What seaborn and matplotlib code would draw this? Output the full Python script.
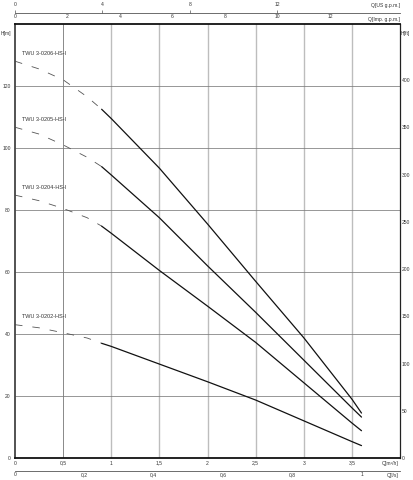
import pandas as pd
import matplotlib.pyplot as plt
import seaborn as sns

# pump curves (Q in m3/h, H in m)
models = ["TWU 3-0206-HS-I", "TWU 3-0205-HS-I", "TWU 3-0204-HS-I", "TWU 3-0202-HS-I"]

q_dash = [0.0, 0.25, 0.5, 0.75, 0.9]
h_dash_0206 = [128.0, 125.5, 122.0, 116.5, 112.5]
h_dash_0205 = [106.7, 104.5, 101.0, 97.0, 94.0]
h_dash_0204 = [84.8, 83.0, 80.5, 77.5, 74.8]
h_dash_0202 = [43.0, 42.0, 40.4, 38.7, 37.0]

q_curve = [0.9, 1.0, 1.5, 2.0, 2.5, 3.0, 3.5, 3.6]
h_curve_0206 = [112.5, 109.5, 93.5, 75.5, 57.0, 38.8, 19.0, 14.5]
h_curve_0205 = [94.0, 91.3, 77.5, 62.0, 47.0, 31.6, 16.2, 13.2]
h_curve_0204 = [74.8, 72.5, 60.5, 49.0, 37.3, 24.3, 11.3, 8.8]
h_curve_0202 = [37.0, 36.0, 30.3, 24.6, 18.7, 12.0, 5.3, 4.0]

q_ticks = [0, 0.5, 1, 1.5, 2, 2.5, 3, 3.5]
h_ticks = [0, 20, 40, 60, 80, 100, 120]
ft_ticks = [0, 50, 100, 150, 200, 250, 300, 350, 400]
us_ticks = [0, 4, 8, 12]
imp_ticks = [0, 2, 4, 6, 8, 10, 12]
ls_ticks = [0, 0.2, 0.4, 0.6, 0.8, 1]

dash_heads = [h_dash_0206, h_dash_0205, h_dash_0204, h_dash_0202]
curve_heads = [h_curve_0206, h_curve_0205, h_curve_0204, h_curve_0202]

sns.set_theme(style="white")
plt.rcParams["font.family"] = ["Liberation Sans", "DejaVu Sans"]

W, H = 413, 480
fig = plt.figure(figsize=(W / 100, H / 100), dpi=100)
ax = fig.add_axes([15 / W, 22 / H, 385 / W, 434 / H])

txt = "#333333"
fs = 3.6


def comma(v, pos=None):
    return f"{v:g}".replace(".", ",")


# grid
for q in q_ticks[1:]:
    if q == 0.5:
        ax.axvline(q, color="#6a6a6a", lw=0.55, zorder=0)
    else:
        ax.axvline(q, color="#bdbdbd", lw=1.0, zorder=0)
for h in h_ticks[1:]:
    ax.axhline(h, color="#7a7a7a", lw=0.55, zorder=0)

for name, hd, hc in zip(models, dash_heads, curve_heads):
    sns.lineplot(x=q_dash, y=hd, ax=ax, color="#555555", lw=0.6,
                 linestyle=(0, (9, 12)), estimator=None, sort=False)
    sns.lineplot(x=q_curve, y=hc, ax=ax, color="#111111", lw=0.9,
                 estimator=None, sort=False)
    ax.text(0.075, hd[0] + 2.5, name, fontsize=4.0, color=txt,
            ha="left", va="center")

ax.set_xlim(0, 4)
ax.set_ylim(0, 140)
ax.set_xticks(q_ticks)
ax.xaxis.set_major_formatter(comma)
ax.set_yticks(h_ticks)
ax.tick_params(axis="both", length=0, labelsize=fs, labelcolor=txt)
ax.tick_params(axis="x", pad=2)
ax.tick_params(axis="y", pad=3)
for side in ["top", "bottom"]:
    ax.spines[side].set_color("#111111")
    ax.spines[side].set_linewidth(1.3)
ax.spines["left"].set_color("#444444")
ax.spines["left"].set_linewidth(1.3)
ax.spines["right"].set_color("#222222")
ax.spines["right"].set_linewidth(0.9)

# H in feet on the right
axr = ax.secondary_yaxis("right", functions=(lambda m: m * 3.2808, lambda f: f / 3.2808))
axr.set_yticks(ft_ticks)
axr.tick_params(length=0, pad=1.5, labelsize=fs, labelcolor=txt)
axr.spines["right"].set_visible(False)

# flow scales on top
axu = ax.secondary_xaxis(1.026, functions=(lambda q: q * 4.4029, lambda g: g / 4.4029))
axu.set_xticks(us_ticks)
axu.tick_params(length=2.2, width=0.5, color="#555555", pad=2, labelsize=fs, labelcolor=txt)
axu.spines["top"].set_color("#555555")
axu.spines["top"].set_linewidth(0.6)

axi = ax.secondary_xaxis(1.026, functions=(lambda q: q * 3.6662, lambda g: g / 3.6662))
axi.set_alignment("bottom")
axi.set_xticks(imp_ticks)
axi.tick_params(length=0, pad=1, labelsize=fs, labelcolor=txt)
axi.spines["bottom"].set_visible(False)

# flow in l/s at the bottom
axl = ax.secondary_xaxis(-0.029, functions=(lambda q: q / 3.6, lambda s: s * 3.6))
axl.set_xticks(ls_ticks)
axl.xaxis.set_major_formatter(comma)
axl.tick_params(length=0, pad=1, labelsize=fs, labelcolor=txt)
axl.spines["bottom"].set_color("#555555")
axl.spines["bottom"].set_linewidth(0.6)

# axis names
fig.text(1 / W, 1 - 33 / H, "H[m]", fontsize=fs, color=txt, ha="left", va="center")
fig.text(401 / W, 1 - 33 / H, "H[ft]", fontsize=fs, color=txt, ha="left", va="center")
fig.text(400 / W, 1 - 6 / H, "Q[US g.p.m.]", fontsize=fs, color=txt, ha="right", va="center")
fig.text(400 / W, 1 - 19.5 / H, "Q[Imp. g.p.m.]", fontsize=fs, color=txt, ha="right", va="center")
fig.text(399 / W, 1 - 464 / H, "Q[m³/h]", fontsize=fs, color=txt, ha="right", va="center")
fig.text(399 / W, 1 - 475 / H, "Q[l/s]", fontsize=fs, color=txt, ha="right", va="center")

fig.savefig("out.png", dpi=100, facecolor="white")
